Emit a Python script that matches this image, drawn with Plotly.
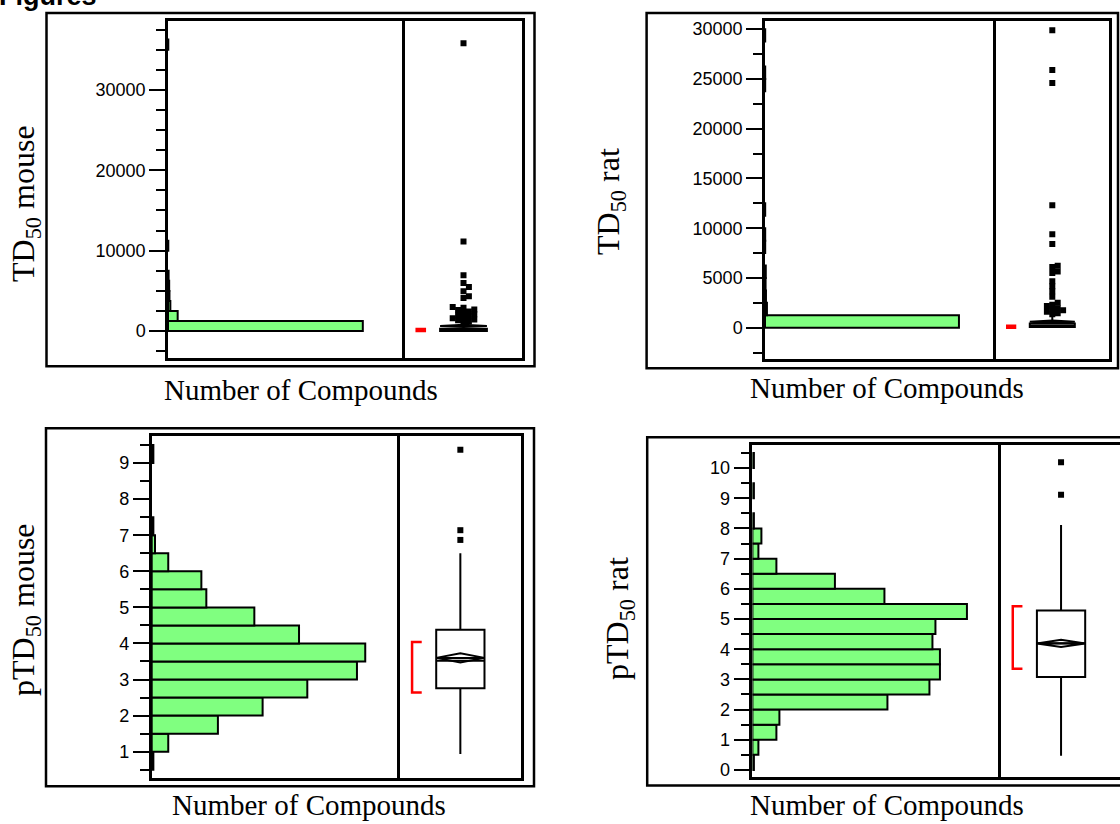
import plotly.graph_objects as go

W, H = 1120, 824

# ------------------------------------------------------------------ data
# TD50 mouse : histogram (bin width 1250), outliers, box statistics
td50_mouse_bin_lo = [0, 1250, 2500, 3750, 5000, 6250, 10000, 35000]
td50_mouse_counts = [665, 33, 8, 5, 4, 2, 1, 1]
td50_mouse_points = [35800, 11140, 6930, 5990, 5490, 4950, 4330, 4130, 3000, 2890,
                     2690, 2620, 2450, 2280, 2100, 1950, 1860, 1700, 1600, 1450,
                     1350, 1200, 1100]
td50_mouse_box = [25, 110, 300, 0.3, 950]           # q1, median, q3, low whisker, high whisker
td50_mouse_mean = [640, 140]                          # mean, diamond half-height
td50_mouse_short = [10, 260]                          # shortest half

# TD50 rat
td50_rat_bin_lo = [0, 1250, 2500, 3750, 5000, 7500, 8750, 11250, 23750, 25000, 28750]
td50_rat_counts = [1000, 10, 5, 3, 4, 1, 1, 1, 1, 1, 1]
td50_rat_points = [29900, 25900, 24600, 12300, 9400, 8400, 6230, 6100, 5650, 5500,
                   4670, 4170, 3670, 3100, 2500, 2300, 2170, 1950, 1830, 1750,
                   1600, 1450, 1350]
td50_rat_box = [60, 190, 420, 0.1, 1250]
td50_rat_mean = [600, 120]
td50_rat_short = [5, 200]

# pTD50 mouse (bin width 0.5)
ptd50_mouse_bin_lo = [0.5, 1.0, 1.5, 2.0, 2.5, 3.0, 3.5, 4.0, 4.5, 5.0, 5.5, 6.0, 6.5, 7.0, 9.0]
ptd50_mouse_counts = [1, 10, 40, 67, 94, 124, 129, 89, 62, 33, 30, 10, 2, 1, 1]
ptd50_mouse_points = [9.37, 7.14, 6.87]
ptd50_mouse_box = [2.76, 3.52, 4.38, 0.935, 6.5]
ptd50_mouse_mean = [3.6, 0.13]
ptd50_mouse_short = [2.64, 4.04]

# pTD50 rat
ptd50_rat_bin_lo = [0.0, 0.5, 1.0, 1.5, 2.0, 2.5, 3.0, 3.5, 4.0, 4.5, 5.0, 5.5, 6.0,
                    6.5, 7.0, 7.5, 8.0, 9.0, 10.0]
ptd50_rat_counts = [1, 4, 16, 18, 90, 118, 125, 125, 120, 122, 143, 88, 55,
                    16, 4, 6, 1, 1, 1]
ptd50_rat_points = [10.19, 9.12]
ptd50_rat_box = [3.08, 4.2, 5.28, 0.47, 8.11]
ptd50_rat_mean = [4.19, 0.12]
ptd50_rat_short = [3.35, 5.42]

y_titles = ["TD<sub>50</sub> mouse", "TD<sub>50</sub> rat",
            "pTD<sub>50</sub> mouse", "pTD<sub>50</sub> rat"]
x_title = "Number of Compounds"

# ------------------------------------------------------------------ layout geometry (pixels)
panels = [
    dict(bins=td50_mouse_bin_lo, counts=td50_mouse_counts, bw=1250, pts=td50_mouse_points,
         box=td50_mouse_box, mean=td50_mouse_mean, short=td50_mouse_short,
         hx0=168, sep=405, bx1=522, y0=20, y1=359, yr=[-3379, 38577], hr=809,
         dtick=10000, minor=2500, outer=(46.5, 12, 534.5, 367),
         xt=(301, 391), yt=(25, 204)),
    dict(bins=td50_rat_bin_lo, counts=td50_rat_counts, bw=1250, pts=td50_rat_points,
         box=td50_rat_box, mean=td50_rat_mean, short=td50_rat_short,
         hx0=765, sep=996, bx1=1108.6, y0=20, y1=360, yr=[-3170, 30830], hr=1191,
         dtick=5000, minor=2500, outer=(646.6, 12, 1118, 369),
         xt=(887, 389), yt=(610, 202)),
    dict(bins=ptd50_mouse_bin_lo, counts=ptd50_mouse_counts, bw=0.5, pts=ptd50_mouse_points,
         box=ptd50_mouse_box, mean=ptd50_mouse_mean, short=ptd50_mouse_short,
         hx0=151.7, sep=400, bx1=520.7, y0=437.3, y1=780.7, yr=[0.273, 9.746], hr=150,
         dtick=1, minor=0.5, outer=(46, 429.3, 534, 789),
         xt=(308.6, 808), yt=(25, 612)),
    dict(bins=ptd50_rat_bin_lo, counts=ptd50_rat_counts, bw=0.5, pts=ptd50_rat_points,
         box=ptd50_rat_box, mean=ptd50_rat_mean, short=ptd50_rat_short,
         hx0=752.4, sep=1000.7, bx1=1121.4, y0=446, y1=780, yr=[-0.241, 10.77], hr=165.5,
         dtick=1, minor=0.5, outer=(647.2, 438.3, 1135, 788.3),
         xt=(887, 808), yt=(620, 621)),
]

GREEN = "#80ff80"
SERIF = "Liberation Serif, Times New Roman, serif"
SANS = "Liberation Sans, Arial, sans-serif"
MSIZE = 6


def fx(px):
    return px / W


def fy(py):
    return 1 - py / H


def stack_x(values, yr, dom_px, sec_px, size=MSIZE):
    """JMP-like stacking of overlapping points around the box centre."""
    ppu = dom_px / (yr[1] - yr[0])
    order = sorted(range(len(values)), key=lambda i: values[i])
    placed = []
    xs = [0.5] * len(values)
    cand = [0]
    for k in range(1, 12):
        cand += [k, -k]
    step = 0.9 * size
    gap_y = 0.75 * size
    for i in order:
        py = values[i] * ppu
        for k in cand:
            px = k * step
            if all(abs(px - qx) >= step or abs(py - qy) >= gap_y for qx, qy in placed):
                break
        placed.append((px, py))
        xs[i] = 0.5 + px / sec_px
    return xs


fig = go.Figure()
layout = dict(width=W, height=H, margin=dict(l=0, r=0, t=0, b=0),
              paper_bgcolor="white", plot_bgcolor="white", showlegend=False,
              shapes=[], annotations=[])

axline = dict(showline=True, linecolor="black", linewidth=2.5, showgrid=False, zeroline=False)

for p, P in enumerate(panels):
    ih, ib = 2 * p + 1, 2 * p + 2
    sec_px = P["bx1"] - P["sep"]
    xb_end = min(1.0, fx(P["bx1"]))
    xb_range = (xb_end * W - P["sep"]) / sec_px
    ydom = [fy(P["y1"]), fy(P["y0"])]

    layout[f"xaxis{ih}"] = dict(domain=[fx(P["hx0"]), fx(P["sep"])], range=[0, P["hr"]],
                                anchor=f"y{ih}", mirror=True, ticks="", showticklabels=False,
                                **axline)
    layout[f"yaxis{ih}"] = dict(domain=ydom, range=P["yr"], anchor=f"x{ih}", mirror=False,
                                ticks="outside", ticklen=16, tickwidth=2, tickcolor="black",
                                tick0=0, dtick=P["dtick"], tickformat="d",
                                tickfont=dict(family=SANS, size=18, color="black"),
                                minor=dict(ticks="outside", ticklen=9, tickwidth=2,
                                           tickcolor="black", tick0=0, dtick=P["minor"],
                                           showgrid=False),
                                **axline)
    layout[f"xaxis{ib}"] = dict(domain=[fx(P["sep"]), xb_end], range=[0, xb_range],
                                anchor=f"y{ib}", mirror=True, ticks="", showticklabels=False,
                                **axline)
    layout[f"yaxis{ib}"] = dict(domain=ydom, matches=f"y{ih}", anchor=f"x{ib}",
                                mirror=(P["bx1"] <= W), ticks="", showticklabels=False,
                                **axline)

    # histogram
    centers = [b + P["bw"] / 2 for b in P["bins"]]
    fig.add_trace(go.Bar(x=P["counts"], y=centers, width=[P["bw"]] * len(centers),
                         orientation="h", marker=dict(color=GREEN, line=dict(color="black", width=2)),
                         xaxis=f"x{ih}", yaxis=f"y{ih}", hoverinfo="skip"))

    # outlier box plot
    q1, med, q3, lo, hi = P["box"]
    fig.add_trace(go.Box(x=[0.5], q1=[q1], median=[med], q3=[q3], lowerfence=[lo],
                         upperfence=[hi], width=0.4, whiskerwidth=0, fillcolor="white",
                         line=dict(color="black", width=2), boxpoints=False,
                         xaxis=f"x{ib}", yaxis=f"y{ib}", hoverinfo="skip"))

    # mean diamond
    m, h = P["mean"]
    fig.add_trace(go.Scatter(x=[0.3, 0.5, 0.7, 0.5, 0.3, 0.7], y=[m, m + h, m, m - h, m, m],
                             mode="lines", line=dict(color="black", width=2),
                             xaxis=f"x{ib}", yaxis=f"y{ib}", hoverinfo="skip"))

    # shortest half bracket
    s_lo, s_hi = P["short"]
    fig.add_trace(go.Scatter(x=[0.18, 0.1, 0.1, 0.18], y=[s_hi, s_hi, s_lo, s_lo],
                             mode="lines", line=dict(color="red", width=2.5),
                             xaxis=f"x{ib}", yaxis=f"y{ib}", hoverinfo="skip"))

    # points beyond whiskers
    xs = stack_x(P["pts"], P["yr"], P["y1"] - P["y0"], sec_px)
    fig.add_trace(go.Scatter(x=xs, y=P["pts"], mode="markers",
                             marker=dict(symbol="square", size=MSIZE, color="black",
                                         line=dict(width=0)),
                             xaxis=f"x{ib}", yaxis=f"y{ib}", hoverinfo="skip"))

    # outer frame
    ox0, oy0, ox1, oy1 = P["outer"]
    layout["shapes"].append(dict(type="rect", xref="paper", yref="paper",
                                 x0=fx(ox0), x1=fx(ox1), y0=fy(oy1), y1=fy(oy0),
                                 line=dict(color="black", width=2.5), fillcolor="rgba(0,0,0,0)"))

    # titles
    layout["annotations"].append(dict(text=x_title, xref="paper", yref="paper",
                                      x=fx(P["xt"][0]), y=fy(P["xt"][1]),
                                      xanchor="center", yanchor="middle", showarrow=False,
                                      font=dict(family=SERIF, size=29, color="black")))
    layout["annotations"].append(dict(text=y_titles[p], xref="paper", yref="paper",
                                      x=fx(P["yt"][0]), y=fy(P["yt"][1]), textangle=-90,
                                      xanchor="center", yanchor="middle", showarrow=False,
                                      font=dict(family=SERIF, size=32, color="black")))

layout["annotations"].append(dict(text="<b>Figures</b>", xref="paper", yref="paper",
                                  x=fx(-3), y=fy(12), xanchor="left", yanchor="bottom",
                                  showarrow=False,
                                  font=dict(family=SANS, size=27, color="black")))

fig.update_layout(**layout)
fig.write_html("out.html")
